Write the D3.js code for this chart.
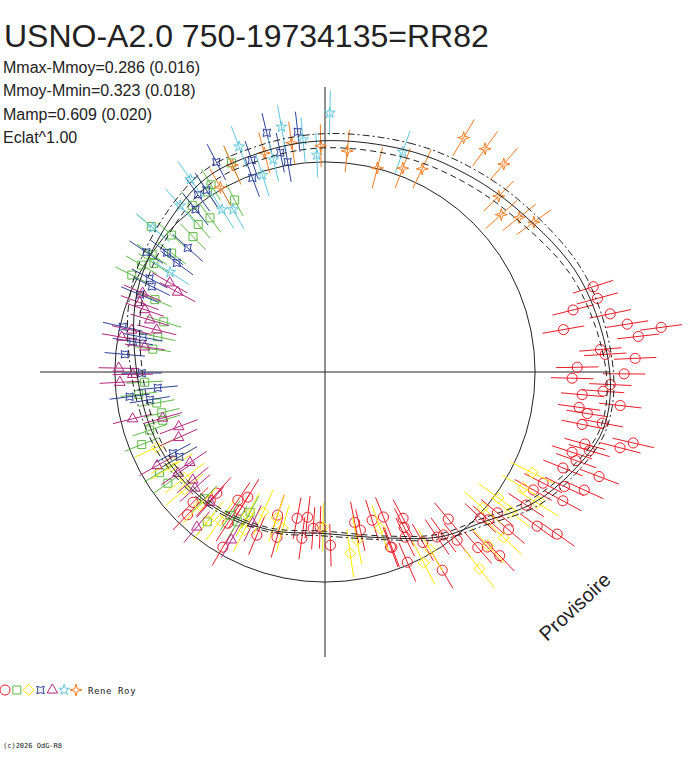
<!DOCTYPE html>
<html>
<head>
<meta charset="utf-8">
<script src="https://cdn.jsdelivr.net/npm/d3@7"></script>
<style>
  body { margin: 0; background: #fff; }
  svg { display: block; font-family: "Liberation Sans", Arial, sans-serif; }
</style>
</head>
<body>
<svg id="chart" width="688" height="768"></svg>
<script>
const title = "USNO-A2.0 750-19734135=RR82";
const statLines = [
  "Mmax-Mmoy=0.286 (0.016)",
  "Mmoy-Mmin=0.323 (0.018)",
  "Mamp=0.609 (0.020)",
  "Eclat^1.00",
];
const mMaxMoy = 0.286, mMoyMin = 0.323;
const refDm = 0.08; // reference circle
const observer = "Rene Roy";
const copyright = "(c)2026 OdG-R8";
const stamp = "Provisoire";

// fitted light curve, phase -> delta mag from mean, with envelope half width
const fitPhase  = [0, 0.056, 0.097, 0.139, 0.194, 0.25, 0.283, 0.311, 0.339, 0.372, 0.403, 0.444, 0.5, 0.556, 0.617, 0.681, 0.75, 0.822, 0.906, 0.953];
const fitDm     = [-0.025, -0.05, -0.082, -0.128, -0.225, -0.29, -0.285, -0.2, -0.1, 0.045, 0.125, 0.245, 0.32, 0.29, 0.25, 0.22, 0.188, 0.1, 0, -0.012];
const fitSpread = [0.035, 0.038, 0.04, 0.04, 0.03, 0.018, 0.015, 0.02, 0.025, 0.02, 0.015, 0.01, 0.012, 0.01, 0.012, 0.02, 0.028, 0.033, 0.035, 0.035];

// observations [phase, delta mag]
const redPts = [
  [0.201,-0.273],[0.208,-0.277],[0.211,-0.146],[0.218,-0.321],[0.225,-0.395],[0.229,-0.559],[0.222,-0.079],
  [0.232,-0.441],[0.237,-0.248],[0.240,-0.270],[0.243,-0.417],[0.247,-0.129],[0.251,-0.361],[0.254,-0.104],
  [0.257,-0.294],[0.261,-0.260],[0.264,-0.158],[0.268,-0.351],[0.272,-0.150],[0.275,-0.195],[0.282,-0.179],
  [0.279,-0.276],[0.286,-0.446],[0.290,-0.388],[0.293,-0.215],[0.300,-0.166],[0.296,-0.245],[0.304,-0.198],
  [0.311,-0.150],[0.308,-0.332],[0.325,-0.092],[0.321,-0.194],[0.318,-0.290],[0.332,-0.065],[0.329,-0.219],
  [0.343,-0.074],[0.350,-0.178],[0.347,-0.282],[0.363,-0.078],[0.379,-0.135],[0.381,-0.062],[0.386,-0.032],
  [0.370,0.064],[0.367,0.029],[0.359,0.018],[0.389,0.170],[0.415,-0.020],[0.435,0.094],[0.442,0.191],
  [0.428,0.211],[0.425,0.257],[0.422,0.299],[0.439,0.346],[0.417,0.147],[0.405,0.132],[0.400,0.123],
  [0.394,0.061],[0.616,0.316],[0.616,0.267],[0.595,0.353],[0.588,0.392],[0.588,0.316],[0.622,0.139],
  [0.626,0.202],[0.563,0.245],[0.591,0.230],[0.584,0.116],[0.551,0.374],[0.545,0.268],[0.530,0.383],
  [0.522,0.289],[0.519,0.396],[0.512,0.344],[0.505,0.351],[0.495,0.262],[0.469,0.361],[0.465,0.318],
  [0.451,0.350],[0.443,0.195],
];
const greenPts = [
  [0.933,-0.014],[0.913,0.035],[0.908,0.056],[0.923,0.158],[0.887,0.157],[0.898,0.168],[0.893,0.065],
  [0.861,-0.002],[0.866,0.102],[0.877,0.184],[0.834,0.069],[0.840,0.117],[0.845,0.085],[0.824,0.050],
  [0.855,0.159],[0.814,0.205],[0.798,0.284],[0.783,0.274],[0.771,0.260],[0.741,0.226],[0.731,0.191],
  [0.721,0.273],[0.711,0.287],[0.704,0.282],[0.699,0.206],[0.690,0.144],[0.663,0.161],[0.652,0.167],
  [0.621,0.254],[0.593,0.269],[0.584,0.261],[0.578,0.333],[0.606,0.177],
];
const yellowPts = [
  [0.683,0.208],[0.662,0.228],[0.620,0.215],[0.598,0.220],
  [0.666,0.245],[0.647,0.250],[0.639,0.213],[0.606,0.185],[0.579,0.315],[0.575,0.242],[0.566,0.361],
  [0.551,0.358],[0.542,0.319],[0.502,0.351],[0.478,0.214],[0.470,0.272],[0.446,0.300],[0.424,0.056],
  [0.415,0.096],[0.394,-0.118],[0.380,-0.058],[0.369,-0.086],[0.363,0.090],[0.350,0.059],[0.353,-0.030],
  [0.322,-0.021],[0.334,-0.017],[0.338,-0.115],
];
const bluePts = [
  [0.962,-0.099],[0.982,-0.077],[0.924,-0.050],[0.947,0.010],[0.968,0.012],[0.972,0.064],[0.943,0.094],
  [0.901,0.040],[0.908,0.045],[0.893,0.091],[0.867,0.204],[0.853,0.140],[0.844,0.055],[0.828,0.136],
  [0.851,0.209],[0.823,0.164],[0.813,0.127],[0.785,0.094],[0.775,0.157],[0.780,0.202],[0.764,0.125],
  [0.749,0.213],[0.735,0.288],[0.730,0.145],[0.725,0.242],[0.672,0.266],[0.666,0.287],
];
const purplePts = [
  [0.833,0.234],[0.829,0.290],[0.807,0.141],[0.815,0.136],[0.803,0.176],[0.796,0.215],[0.789,0.261],
  [0.777,0.099],[0.784,0.141],[0.772,0.219],[0.753,0.099],[0.742,0.103],[0.748,0.168],[0.712,0.140],
  [0.706,0.285],[0.693,0.347],[0.683,0.326],[0.669,0.168],[0.656,0.315],[0.654,0.236],[0.641,0.275],
  [0.634,0.257],[0.615,0.260],[0.610,0.124],[0.581,0.168],[0.571,0.290],
];
const cyanPts = [
  [0.003,-0.163],[0.972,-0.112],[0.942,-0.074],[0.903,-0.043],[0.886,0.028],[0.861,0.008],[0.841,0.208],
  [0.951,0.097],[0.962,0.038],[0.910,0.168],[0.918,0.196],[0.994,0.045],[0.985,-0.035],[0.054,-0.035],
];
const orangePts = [
  [0.918,0.069],[0.933,-0.002],[0.957,-0.005],[0.977,-0.027],[0.997,0.000],[0.016,0.020],[0.040,0.077],
  [0.058,0.040],[0.071,0.005],[0.085,-0.228],[0.099,-0.240],[0.113,-0.238],[0.124,-0.104],[0.134,-0.050],
  [0.143,-0.109],[0.151,-0.153],
];

const seriesColors = ["#ec1c2a", "#5fb947", "#ffeb00", "#2e4399", "#b3277f", "#62c6dc", "#f57c22"];
const seriesErr    = [0.105, 0.09, 0.12, 0.1, 0.1, 0.11, 0.105];

// ---- symbols
function star4(inner, rot) {
  return {
    draw(ctx, size) {
      const R = Math.sqrt(size) / 2;
      for (let k = 0; k < 8; k++) {
        const a = rot + k * Math.PI / 4;
        const rr = k % 2 ? R * inner : R;
        const x = rr * Math.sin(a), y = -rr * Math.cos(a);
        k ? ctx.lineTo(x, y) : ctx.moveTo(x, y);
      }
      ctx.closePath();
    },
  };
}
const diamond = {
  draw(ctx, size) {
    const h = Math.sqrt(size) / 2;
    ctx.moveTo(0, -h); ctx.lineTo(h, 0); ctx.lineTo(0, h); ctx.lineTo(-h, 0); ctx.closePath();
  },
};
const seriesSymbols = [
  d3.symbol(d3.symbolCircle, 80),
  d3.symbol(d3.symbolSquare, 64),
  d3.symbol(diamond, 121),
  d3.symbol(star4(0.5, Math.PI / 4), 110),
  d3.symbol(d3.symbolTriangle, 48),
  d3.symbol(d3.symbolStar, 36),
  d3.symbol(star4(0.3, 0), 144),
];
const seriesPts = [redPts, greenPts, yellowPts, bluePts, purplePts, cyanPts, orangePts];

// ---- layout
const cx = 325, cy = 372;
const svg = d3.select("#chart");
svg.append("rect").attr("width", 688).attr("height", 768).attr("fill", "#fff");

const r = d3.scaleLinear().domain([mMoyMin, -mMaxMoy]).range([161, 284]);
const ang = d3.scaleLinear().domain([0, 1]).range([0, 2 * Math.PI]);
const rAxis = r(-mMaxMoy) + 1;

const plot = svg.append("g").attr("transform", `translate(${cx},${cy})`);

// axes and reference circle
plot.append("line").attr("x1", -rAxis).attr("x2", rAxis).attr("y1", 0).attr("y2", 0)
  .attr("stroke", "#222").attr("stroke-width", 1);
plot.append("line").attr("x1", 0).attr("x2", 0).attr("y1", -rAxis).attr("y2", rAxis)
  .attr("stroke", "#222").attr("stroke-width", 1);
plot.append("circle").attr("r", r(refDm))
  .attr("fill", "none").attr("stroke", "#222").attr("stroke-width", 1);

// observations
seriesPts.forEach((pts, i) => {
  const g = plot.append("g").attr("stroke", seriesColors[i]).attr("fill", "none").attr("stroke-width", 1);
  const err = seriesErr[i];
  g.selectAll("line")
    .data(pts)
    .join("line")
    .attr("x1", (d) => d3.pointRadial(ang(d[0]), r(d[1] + err))[0])
    .attr("y1", (d) => d3.pointRadial(ang(d[0]), r(d[1] + err))[1])
    .attr("x2", (d) => d3.pointRadial(ang(d[0]), r(d[1] - err))[0])
    .attr("y2", (d) => d3.pointRadial(ang(d[0]), r(d[1] - err))[1]);
  g.selectAll("path")
    .data(pts)
    .join("path")
    .attr("transform", (d) => `translate(${d3.pointRadial(ang(d[0]), r(d[1]))})`)
    .attr("d", seriesSymbols[i]);
});

// fitted curve and envelopes
const fitNodes = fitPhase.map((p, i) => ({ p, dm: fitDm[i], w: fitSpread[i] }));
const radial = (acc) =>
  d3.lineRadial().angle((d) => ang(d.p)).radius(acc).curve(d3.curveCatmullRomClosed);

plot.append("path").attr("d", radial((d) => r(d.dm - d.w))(fitNodes))
  .attr("fill", "none").attr("stroke", "#222").attr("stroke-dasharray", "7,3,2,3");
plot.append("path").attr("d", radial((d) => r(d.dm + d.w))(fitNodes))
  .attr("fill", "none").attr("stroke", "#222").attr("stroke-dasharray", "6,4");
plot.append("path").attr("d", radial((d) => r(d.dm))(fitNodes))
  .attr("fill", "none").attr("stroke", "#222");

// ---- texts
svg.append("text").attr("x", 4).attr("y", 47).attr("font-size", 32).attr("fill", "#222").text(title);
svg.selectAll(".stat")
  .data(statLines)
  .join("text")
  .attr("class", "stat")
  .attr("x", 3)
  .attr("y", (d, i) => 73 + i * 23.3)
  .attr("font-size", 16)
  .attr("fill", "#222")
  .text((d) => d);

svg.append("text")
  .attr("transform", "translate(547,642) rotate(-43)")
  .attr("font-size", 20).attr("fill", "#222").text(stamp);

// legend
const lx = d3.scalePoint().domain(d3.range(seriesColors.length)).range([5, 76]);
const legend = svg.append("g");
legend.selectAll("path")
  .data(seriesColors)
  .join("path")
  .attr("transform", (d, i) => `translate(${lx(i)},690)`)
  .attr("d", (d, i) => seriesSymbols[i]())
  .attr("fill", "none")
  .attr("stroke", (d) => d);
legend.append("text").attr("x", 88).attr("y", 694)
  .attr("font-family", "DejaVu Sans Mono, monospace").attr("font-size", 9)
  .attr("letter-spacing", 0.6).attr("fill", "#222").text(observer);
svg.append("text").attr("x", 3).attr("y", 748)
  .attr("font-family", "DejaVu Sans Mono, monospace").attr("font-size", 7)
  .attr("fill", "#222").text(copyright);
</script>
</body>
</html>
